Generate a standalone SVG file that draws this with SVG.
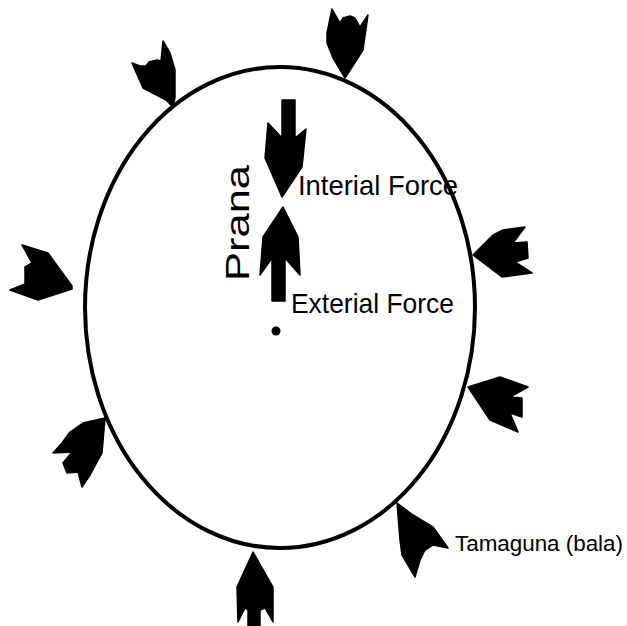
<svg xmlns="http://www.w3.org/2000/svg" width="627" height="626" viewBox="0 0 627 626">
  <style>
    .arrow { fill: #000; stroke: #000; stroke-width: 1.5; stroke-linejoin: round; }
    .lbl { font-family: "Liberation Sans", Arial, sans-serif; fill: #000; }
  </style>
  <rect width="627" height="626" fill="#fff"/>
  <g id="body">
    <ellipse cx="280" cy="307.5" rx="195" ry="240.5" fill="none" stroke="#000" stroke-width="4"/>
    <circle cx="276" cy="331" r="4.5" fill="#000"/>
  </g>
  <g id="prana">
    <text class="lbl" font-size="34" transform="translate(249,281) rotate(-90)" textLength="116" lengthAdjust="spacingAndGlyphs">Prana</text>
  </g>
  <g id="interial-force">
    <polygon class="arrow" points="282,100 295,100 295,138 306,129 302,167 282,197 265,158 268,123 282,138"/>
    <text class="lbl" x="298" y="195" font-size="28" textLength="160" lengthAdjust="spacingAndGlyphs">Interial Force</text>
  </g>
  <g id="exterial-force">
    <polygon class="arrow" points="283,207 298,237 300,275 285,258 285,301 272,301 272,258 260,275 263,237"/>
    <text class="lbl" x="291" y="313" font-size="28" textLength="163" lengthAdjust="spacingAndGlyphs">Exterial Force</text>
  </g>
  <g id="arrows-outer">
    <polygon id="a-topleft" class="arrow" points="163,41 170,53 175,70 175,97 173,107 166,100 143,88 132,63 140,66 146,66 149,62 157,60 161,61"/>
    <polygon id="a-top" class="arrow" points="332,9 340,23 343,18 350,16 355,18 360,27 368,15 363,50 345,78 333,58 327,43 327,33"/>
    <polygon id="a-left" class="arrow" points="22,245 48,253 72,286 72,289 38,300 10,290 25,284 25,267 32,263"/>
    <polygon id="a-right1" class="arrow" points="473,255 493,235 503,230 525,227 513,243 527,242 528,258 515,262 532,273 502,277"/>
    <polygon id="a-right2" class="arrow" points="468,387 500,377 528,387 510,397 522,398 522,417 510,413 518,432 490,420"/>
    <polygon id="a-lowerleft" class="arrow" points="105,418 83,423 70,432 62,443 53,453 72,452 63,463 67,473 78,472 82,487 90,475 102,453"/>
    <polygon id="a-bottomright" class="arrow" points="397,503 413,515 433,527 448,548 433,545 425,550 420,560 415,577 402,555 400,540"/>
    <polygon id="a-bottom" class="arrow" points="253,552 273,587 273,622 265,608 260,610 260,626 248,626 248,610 245,608 238,622 237,587"/>
  </g>
  <g id="tamaguna">
    <text class="lbl" x="455" y="551" font-size="22" textLength="168" lengthAdjust="spacingAndGlyphs">Tamaguna (bala)</text>
  </g>
</svg>
